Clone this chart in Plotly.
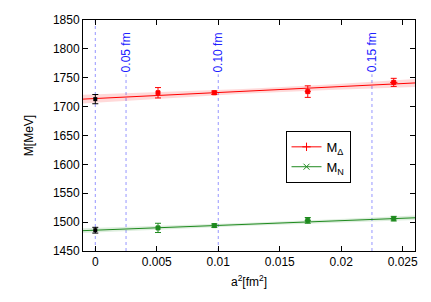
import plotly.graph_objects as go

# ---- data ----
a2_lattice = [0.0051, 0.00968, 0.01728, 0.02427]
a2_err = [0.0001, 0.0001, 0.00025, 0.0003]
m_delta = [1724, 1724, 1726, 1742]
m_delta_err = [9, 3, 10, 7]
m_nuc = [1490, 1494, 1503, 1506]
m_nuc_err = [8, 3, 5, 4]

# continuum-extrapolated values (x = 0)
cont_x = [0.0]
cont_delta = [1713]
cont_delta_err = [8]
cont_nuc = [1486]
cont_nuc_err = [5]

# fit lines and bands
fit_x = [-0.001, 0.026]
delta_fit = [1713, 1741]
nuc_fit = [1485.2, 1507.5]
band_x = [-0.001, 0.006, 0.012, 0.019, 0.026]
delta_lo = [1705.5, 1715.0, 1722.5, 1729.0, 1734.0]
delta_hi = [1720.5, 1725.5, 1730.5, 1738.5, 1748.0]
nuc_lo = [1481.2, 1488.0, 1493.5, 1498.7, 1503.5]
nuc_hi = [1489.2, 1494.0, 1498.5, 1504.7, 1511.5]

# lattice spacings a^2 for a = 0.05, 0.10, 0.15 fm
spacing_a2 = [0.0025, 0.01, 0.0225]
spacing_labels = ["0.05 fm", "0.10 fm", "0.15 fm"]

x_tickvals = [0, 0.005, 0.01, 0.015, 0.02, 0.025]
x_ticktext = ["0", "0.005", "0.01", "0.015", "0.02", "0.025"]
y_tickvals = [1450, 1500, 1550, 1600, 1650, 1700, 1750, 1800, 1850]

RED = "#ff0000"
GREEN = "#1f8a1f"
BLUE = "#2020ff"
VLINE = "rgba(80,80,255,0.6)"
FONT = "Liberation Sans, Arial, sans-serif"

fig = go.Figure()

# vertical dotted lines
fig.add_trace(go.Scatter(x=[0, 0], y=[1450, 1850], mode="lines",
                         line=dict(color=VLINE, width=1, dash="dot"),
                         showlegend=False, hoverinfo="skip"))
for xv in spacing_a2:
    fig.add_trace(go.Scatter(x=[xv, xv], y=[1450, 1756], mode="lines",
                             line=dict(color=VLINE, width=1, dash="dot"),
                             showlegend=False, hoverinfo="skip"))

# bands
for lo, hi, col in [(delta_lo, delta_hi, "rgba(255,0,0,0.15)"),
                    (nuc_lo, nuc_hi, "rgba(31,138,31,0.15)")]:
    fig.add_trace(go.Scatter(x=band_x, y=lo, mode="lines", line=dict(width=0),
                             showlegend=False, hoverinfo="skip"))
    fig.add_trace(go.Scatter(x=band_x, y=hi, mode="lines", line=dict(width=0),
                             fill="tonexty", fillcolor=col,
                             showlegend=False, hoverinfo="skip"))

# fit lines
fig.add_trace(go.Scatter(x=fit_x, y=delta_fit, mode="lines",
                         line=dict(color=RED, width=1), showlegend=False))
fig.add_trace(go.Scatter(x=fit_x, y=nuc_fit, mode="lines",
                         line=dict(color=GREEN, width=1), showlegend=False))

# lattice data
fig.add_trace(go.Scatter(x=a2_lattice, y=m_delta, mode="markers",
                         marker=dict(symbol="square", size=4, color=RED,
                                     line=dict(color=RED, width=1)),
                         error_y=dict(type="data", array=m_delta_err, color=RED, thickness=1, width=3),
                         error_x=dict(type="data", array=a2_err, color=RED, thickness=1, width=0),
                         showlegend=False))
fig.add_trace(go.Scatter(x=a2_lattice, y=m_nuc, mode="markers",
                         marker=dict(symbol="square", size=4, color=GREEN,
                                     line=dict(color=GREEN, width=1)),
                         error_y=dict(type="data", array=m_nuc_err, color=GREEN, thickness=1, width=3),
                         error_x=dict(type="data", array=a2_err, color=GREEN, thickness=1, width=0),
                         showlegend=False))

# continuum points
for yv, ev in [(cont_delta, cont_delta_err), (cont_nuc, cont_nuc_err)]:
    fig.add_trace(go.Scatter(x=cont_x, y=yv, mode="markers",
                             marker=dict(symbol="square", size=4, color="black"),
                             error_y=dict(type="data", array=ev, color="black", thickness=1, width=3),
                             showlegend=False))

# legend entries
fig.add_trace(go.Scatter(x=[None], y=[None], mode="lines+markers", name="M<sub>Δ</sub>",
                         line=dict(color=RED, width=1),
                         marker=dict(symbol="cross-thin", size=6, color=RED, line=dict(color=RED, width=1))))
fig.add_trace(go.Scatter(x=[None], y=[None], mode="lines+markers", name="M<sub>N</sub>",
                         line=dict(color=GREEN, width=1),
                         marker=dict(symbol="x-thin", size=6, color=GREEN, line=dict(color=GREEN, width=1))))

for xv, lab in zip(spacing_a2, spacing_labels):
    fig.add_annotation(x=xv, y=1794, text=lab, textangle=-90, showarrow=False,
                       font=dict(color=BLUE, size=12, family=FONT),
                       xanchor="center", yanchor="middle")

axis_common = dict(showline=True, linecolor="black", linewidth=1, mirror="ticks",
                   ticks="inside", ticklen=5, tickcolor="black", showgrid=False,
                   zeroline=False, tickfont=dict(size=12, color="black", family=FONT))

# page body adds an 8px margin, so the figure is sized to fit inside it
fig.update_layout(
    width=415, height=286,
    margin=dict(l=75, r=5, t=7, b=43),
    paper_bgcolor="white", plot_bgcolor="white",
    font=dict(family=FONT, size=12, color="black"),
    xaxis=dict(range=[-0.001, 0.026], tickvals=x_tickvals, ticktext=x_ticktext,
               title=dict(text="a<sup>2</sup>[fm<sup>2</sup>]", font=dict(size=12), standoff=9),
               **axis_common),
    yaxis=dict(range=[1450, 1850], tickvals=y_tickvals,
               title=dict(text="M[MeV]", font=dict(size=12), standoff=16),
               **axis_common),
    legend=dict(x=0.61, y=0.52, xanchor="left", yanchor="top",
                bordercolor="black", borderwidth=1, bgcolor="white",
                font=dict(size=13, family=FONT), tracegroupgap=0,
                traceorder="normal", itemwidth=30),
    showlegend=True,
)

fig.write_html("out.html")
